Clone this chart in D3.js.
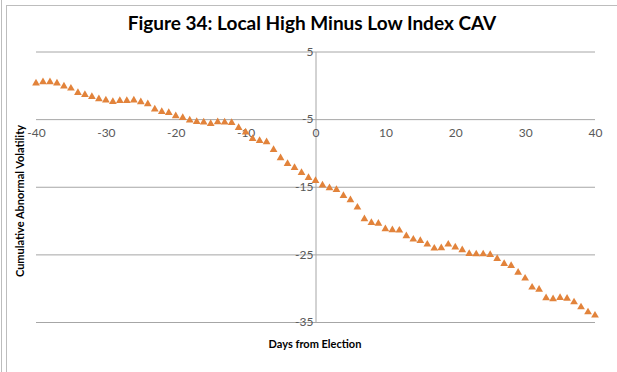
<html>
<head>
<meta charset="utf-8">
<script src="https://d3js.org/d3.v7.min.js"></script>
<style>
body { margin: 0; background: #fff; }
text { font-family: Lato, "Open Sans", sans-serif; }
</style>
</head>
<body>
<svg width="617" height="372"></svg>
<script>
// days relative to the election
var days = [-40,-39,-38,-37,-36,-35,-34,-33,-32,-31,-30,-29,-28,-27,-26,-25,-24,-23,-22,-21,
  -20,-19,-18,-17,-16,-15,-14,-13,-12,-11,-10,-9,-8,-7,-6,-5,-4,-3,-2,-1,
  0,1,2,3,4,5,6,7,8,9,10,11,12,13,14,15,16,17,18,19,20,
  21,22,23,24,25,26,27,28,29,30,31,32,33,34,35,36,37,38,39,40];
// cumulative abnormal volatility
var cav = [0.30,0.49,0.49,0.30,-0.15,-0.45,-1.09,-1.39,-1.68,-2.03,-2.22,-2.42,-2.27,-2.27,-2.22,-2.47,-2.77,-3.55,-3.90,-4.05,
  -4.54,-4.79,-5.18,-5.38,-5.47,-5.68,-5.43,-5.47,-5.53,-6.27,-6.95,-7.90,-8.19,-8.39,-9.53,-10.75,-11.60,-12.19,-12.93,-13.67,
  -14.11,-14.79,-15.19,-15.44,-16.33,-16.97,-18.05,-19.78,-20.33,-20.42,-21.26,-21.41,-21.45,-22.29,-22.78,-22.99,-23.52,-24.11,-24.07,-23.52,-23.95,
  -24.36,-24.91,-24.96,-24.96,-25.06,-25.65,-26.39,-26.69,-27.67,-28.55,-29.88,-30.18,-31.46,-31.61,-31.42,-31.51,-32.06,-32.80,-33.54,-34.02];
var xTicks = [-40,-30,-20,-10,0,10,20,30,40];
var yTicks = [5,-5,-15,-25,-35];

var svg = d3.select("svg");

// outer frame
svg.append("line").attr("x1",1.5).attr("x2",1.5).attr("y1",0).attr("y2",372).attr("stroke","#bdbdbd");
svg.append("line").attr("x1",6.5).attr("x2",6.5).attr("y1",5).attr("y2",372).attr("stroke","#bdbdbd");
svg.append("line").attr("x1",6).attr("x2",617).attr("y1",5.5).attr("y2",5.5).attr("stroke","#bdbdbd");

var x = d3.scaleLinear().domain([-40,40]).range([36,595]);
var y = d3.scaleLinear().domain([-35,5]).range([322,51.5]);

// gridlines
svg.append("g")
  .attr("transform","translate(36,0)")
  .call(d3.axisRight(y).tickValues(yTicks).tickSize(559).tickFormat(""))
  .call(function(g){
    g.select(".domain").remove();
    g.selectAll("line").attr("stroke","#a6a6a6");
  });

// y axis at x = 0
svg.append("g")
  .attr("transform","translate(" + x(0) + ",0)")
  .call(d3.axisLeft(y).tickValues(yTicks).tickSize(0).tickPadding(2).tickFormat(function(d){ return String(d); }))
  .call(function(g){
    g.select(".domain").attr("stroke","#a6a6a6");
    g.selectAll("text").attr("fill","#595959").style("font-size","12px").style("font-family","Lato, sans-serif");
  });

// x axis labels sit under the -5 line
svg.append("g")
  .attr("transform","translate(0," + y(-5) + ")")
  .call(d3.axisBottom(x).tickValues(xTicks).tickSize(0).tickPadding(9).tickFormat(function(d){ return String(d); }))
  .call(function(g){
    g.select(".domain").remove();
    g.selectAll("text").attr("fill","#595959").style("font-size","12px").style("font-family","Lato, sans-serif");
  });

// markers
var tri = d3.symbol().type(d3.symbolTriangle).size(26);
svg.append("g").selectAll("path")
  .data(days.map(function(d,i){ return [d, cav[i]]; }))
  .enter()
  .append("path")
  .attr("d", tri)
  .attr("transform", function(d){ return "translate(" + x(d[0]) + "," + y(d[1]) + ")"; })
  .attr("fill","#e2833b");

// titles
svg.append("text")
  .attr("x",312).attr("y",30)
  .attr("text-anchor","middle")
  .style("font-size","19px").style("font-weight","bold")
  .attr("fill","#000")
  .text("Figure 34: Local High Minus Low Index CAV");

svg.append("text")
  .attr("x",315).attr("y",348)
  .attr("text-anchor","middle")
  .style("font-size","11px").style("font-weight","bold")
  .text("Days from Election");

svg.append("text")
  .attr("transform","translate(24,201) rotate(-90)")
  .attr("text-anchor","middle")
  .style("font-size","11px").style("font-weight","bold")
  .text("Cumulative Abnormal Volatility");
</script>
</body>
</html>
